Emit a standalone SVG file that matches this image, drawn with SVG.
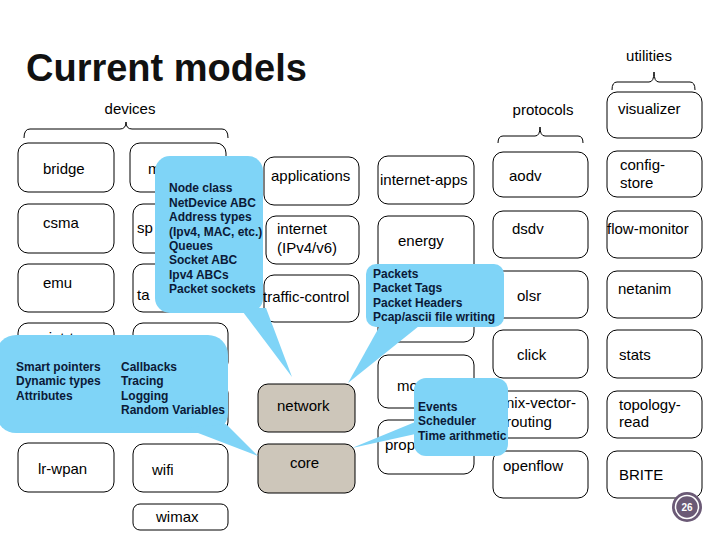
<svg xmlns="http://www.w3.org/2000/svg" width="720" height="540" viewBox="0 0 720 540">
<style>
.box{fill:#fff;stroke:#000;stroke-width:1}
.core{fill:#cdc6ba;stroke:#000;stroke-width:1}
.lbl{font-family:"Liberation Sans",Arial,sans-serif;font-size:15px;fill:#000}
.call{fill:#7fd4f7;stroke:none}
.ct{font-family:"Liberation Sans",Arial,sans-serif;font-size:12px;font-weight:bold;fill:#0b1a38}
.brace{fill:none;stroke:#000;stroke-width:1}
</style>
<rect width="720" height="540" fill="#fff"/>
<text x="26" y="81" font-family="'Liberation Sans',Arial,sans-serif" font-size="38" font-weight="bold" fill="#111">Current models</text>

<g id="labels">
<text class="lbl" x="130" y="114" text-anchor="middle">devices</text>
<text class="lbl" x="543" y="115" text-anchor="middle">protocols</text>
<text class="lbl" x="649" y="61" text-anchor="middle">utilities</text>
</g>

<g id="connectors">
<path class="brace" d="M24,138 Q24,129 30,129 L120,129 Q126,129 126,122 Q126,129 132,129 L222,129 Q228,129 228,138"/>
<path class="brace" d="M498,143 Q498,136 503,136 L535,136 Q540,136 540,127 Q540,136 545,136 L578,136 Q583,136 583,143"/>
<path class="brace" d="M612,90 Q612,82 617,82 L649,82 Q654,82 654,72 Q654,82 659,82 L690,82 Q695,82 695,90"/>
</g>

<!-- devices column 1 -->
<g id="bridge"><rect class="box" x="18" y="143" width="96" height="49" rx="10"/><text class="lbl" x="43" y="174">bridge</text></g>
<g id="csma"><rect class="box" x="18" y="204" width="96" height="49" rx="10"/><text class="lbl" x="43" y="228">csma</text></g>
<g id="emu"><rect class="box" x="18" y="264" width="96" height="48" rx="10"/><text class="lbl" x="43" y="288">emu</text></g>
<g id="point-to-point"><rect class="box" x="18" y="323" width="96" height="49" rx="10"/><text class="lbl" x="32" y="343">point-to</text></g>
<g id="fd-net-device"><rect class="box" x="18" y="383" width="96" height="49" rx="10"/></g>
<g id="lr-wpan"><rect class="box" x="18" y="443" width="96" height="49" rx="10"/><text class="lbl" x="38" y="474">lr-wpan</text></g>

<!-- devices column 2 -->
<g id="mesh"><rect class="box" x="130" y="143" width="96" height="49" rx="10"/><text class="lbl" x="148" y="174">m</text></g>
<g id="spectrum"><rect class="box" x="133" y="204" width="95" height="49" rx="10"/><text class="lbl" x="137" y="233">sp</text></g>
<g id="tap-bridge"><rect class="box" x="133" y="264" width="95" height="48" rx="10"/><text class="lbl" x="137" y="300">ta</text></g>
<g id="dev-row4"><rect class="box" x="133" y="323" width="95" height="49" rx="10"/></g>
<g id="dev-row5"><rect class="box" x="133" y="383" width="95" height="49" rx="10"/></g>
<g id="wifi"><rect class="box" x="133" y="444" width="95" height="48" rx="10"/><text class="lbl" x="152" y="475">wifi</text></g>
<g id="wimax"><rect class="box" x="133" y="504" width="95" height="26" rx="7"/><text class="lbl" x="156" y="522">wimax</text></g>

<!-- middle column -->
<g id="applications"><rect class="box" x="264" y="157" width="95" height="48" rx="10"/><text class="lbl" x="271" y="181">applications</text></g>
<g id="internet"><rect class="box" x="266" y="216" width="93" height="48" rx="10"/><text class="lbl" x="277" y="234">internet</text><text class="lbl" x="277" y="253">(IPv4/v6)</text></g>
<g id="traffic-control"><rect class="box" x="264" y="275" width="95" height="47" rx="10"/><text class="lbl" x="263" y="302">traffic-control</text></g>
<g id="network"><rect class="core" x="258" y="384" width="97" height="48" rx="10"/><text class="lbl" x="277" y="411">network</text></g>
<g id="core"><rect class="core" x="258" y="444" width="97" height="49" rx="10"/><text class="lbl" x="290" y="468">core</text></g>

<!-- column 4 -->
<g id="internet-apps"><rect class="box" x="378" y="156" width="96" height="48" rx="10"/><text class="lbl" x="380" y="185">internet-apps</text></g>
<g id="energy"><rect class="box" x="378" y="216" width="96" height="126" rx="10"/><text class="lbl" x="398" y="246">energy</text></g>
<g id="mobility"><rect class="box" x="378" y="355" width="96" height="53" rx="10"/><text class="lbl" x="397" y="391">mo</text></g>
<g id="propagation"><rect class="box" x="378" y="420" width="96" height="54" rx="10"/><text class="lbl" x="385" y="450">prop</text></g>

<!-- protocols -->
<g id="aodv"><rect class="box" x="493" y="152" width="95" height="45" rx="10"/><text class="lbl" x="509" y="181">aodv</text></g>
<g id="dsdv"><rect class="box" x="493" y="211" width="95" height="47" rx="10"/><text class="lbl" x="512" y="234">dsdv</text></g>
<g id="olsr"><rect class="box" x="493" y="271" width="95" height="47" rx="10"/><text class="lbl" x="517" y="301">olsr</text></g>
<g id="click"><rect class="box" x="493" y="330" width="95" height="48" rx="10"/><text class="lbl" x="517" y="360">click</text></g>
<g id="nix-vector-routing"><rect class="box" x="493" y="391" width="95" height="47" rx="10"/><text class="lbl" x="506" y="408">nix-vector-</text><text class="lbl" x="506" y="427">routing</text></g>
<g id="openflow"><rect class="box" x="493" y="451" width="95" height="47" rx="10"/><text class="lbl" x="503" y="471">openflow</text></g>

<!-- utilities -->
<g id="visualizer"><rect class="box" x="607" y="92" width="95" height="46" rx="10"/><text class="lbl" x="618" y="114">visualizer</text></g>
<g id="config-store"><rect class="box" x="607" y="151" width="95" height="46" rx="10"/><text class="lbl" x="620" y="170">config-</text><text class="lbl" x="620" y="188">store</text></g>
<g id="flow-monitor"><rect class="box" x="607" y="211" width="95" height="47" rx="10"/><text class="lbl" x="607" y="234">flow-monitor</text></g>
<g id="netanim"><rect class="box" x="607" y="271" width="95" height="47" rx="10"/><text class="lbl" x="618" y="294">netanim</text></g>
<g id="stats"><rect class="box" x="607" y="330" width="95" height="48" rx="10"/><text class="lbl" x="619" y="360">stats</text></g>
<g id="topology-read"><rect class="box" x="607" y="391" width="95" height="47" rx="10"/><text class="lbl" x="619" y="410">topology-</text><text class="lbl" x="619" y="427">read</text></g>
<g id="BRITE"><rect class="box" x="607" y="451" width="95" height="47" rx="10"/><text class="lbl" x="619" y="480">BRITE</text></g>

<!-- callouts -->
<g id="callout-network-api">
<rect class="call" x="155" y="156" width="108" height="157" rx="15"/>
<polygon class="call" points="240,308 266,308 292,377"/>
<text class="ct" x="169" y="192">Node class</text>
<text class="ct" x="169" y="207">NetDevice ABC</text>
<text class="ct" x="169" y="221">Address types</text>
<text class="ct" x="169" y="236">(Ipv4, MAC, etc.)</text>
<text class="ct" x="169" y="250">Queues</text>
<text class="ct" x="169" y="264">Socket ABC</text>
<text class="ct" x="169" y="279">Ipv4 ABCs</text>
<text class="ct" x="169" y="293">Packet sockets</text>
</g>
<g id="callout-packets">
<rect class="call" x="366" y="264" width="138" height="63" rx="10"/>
<polygon class="call" points="382,322 424,322 348,383"/>
<text class="ct" x="373" y="278">Packets</text>
<text class="ct" x="373" y="292">Packet Tags</text>
<text class="ct" x="373" y="307">Packet Headers</text>
<text class="ct" x="373" y="321">Pcap/ascii file writing</text>
</g>
<g id="callout-core-objects">
<rect class="call" x="-4" y="335" width="232" height="98" rx="20"/>
<polygon class="call" points="185,428 226,424 258,456"/>
<text class="ct" x="16" y="371">Smart pointers</text>
<text class="ct" x="16" y="385">Dynamic types</text>
<text class="ct" x="16" y="400">Attributes</text>
<text class="ct" x="121" y="371">Callbacks</text>
<text class="ct" x="121" y="385">Tracing</text>
<text class="ct" x="121" y="400">Logging</text>
<text class="ct" x="121" y="414">Random Variables</text>
</g>
<g id="callout-events">
<rect class="call" x="414" y="378" width="94" height="78" rx="12"/>
<polygon class="call" points="420,420 420,433 352,448"/>
<text class="ct" x="418" y="411">Events</text>
<text class="ct" x="418" y="425">Scheduler</text>
<text class="ct" x="418" y="440">Time arithmetic</text>
</g>

<g id="page-badge">
<circle cx="687" cy="507" r="15" fill="#6b5a76"/>
<circle cx="687" cy="507" r="11.5" fill="none" stroke="#fff" stroke-width="1.5"/>
<text x="687" y="511" text-anchor="middle" font-family="'Liberation Sans',Arial,sans-serif" font-size="10" font-weight="bold" fill="#fff">26</text>
</g>
</svg>
